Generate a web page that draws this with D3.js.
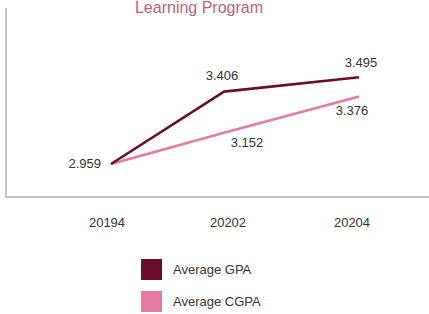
<!DOCTYPE html>
<html><head><meta charset="utf-8">
<script src="https://cdn.jsdelivr.net/npm/d3@7"></script>
<style>body{margin:0;background:#fff}svg{display:block;font-family:"Liberation Sans",Arial,sans-serif}</style>
</head><body>
<script>
const title = "Learning Program";
const categories = ["20194", "20202", "20204"];
const gpa = [2.959, 3.406, 3.495];
const cgpa = [2.959, 3.152, 3.376];
const seriesNames = ["Average GPA", "Average CGPA"];
const colors = ["#6a0d2c", "#e27aa2"];

const W = 429, H = 314;
const svg = d3.select("body").append("svg").attr("width", W).attr("height", H);

const x = d3.scaleOrdinal().domain(categories).range([111, 224, 359]);
const y = d3.scaleLinear().domain([2.755, 3.91]).range([197, 10]);

// title
svg.append("text").attr("x", 199).attr("y", 13).attr("text-anchor", "middle")
  .attr("font-size", 16).attr("fill", "#b9607a").text(title);

// axes frame
svg.append("line").attr("x1", 6).attr("x2", 6).attr("y1", 8).attr("y2", 197)
  .attr("stroke", "#c4c4c4").attr("stroke-width", 2);
svg.append("line").attr("x1", 5).attr("x2", W).attr("y1", 197).attr("y2", 197)
  .attr("stroke", "#c4c4c4").attr("stroke-width", 2);

// x tick labels
svg.selectAll("text.tick").data(categories).enter().append("text")
  .attr("class", "tick")
  .attr("x", (d, i) => x(d) + [-4, 4, -7][i]).attr("y", 227)
  .attr("text-anchor", "middle").attr("font-size", 13).attr("fill", "#333")
  .text(d => d);

const line = d3.line().x((d, i) => x(categories[i])).y(d => y(d));
[cgpa, gpa].forEach((s, k) => {
  svg.append("path").datum(s).attr("d", line).attr("fill", "none")
    .attr("stroke", colors[1 - k]).attr("stroke-width", 2.6).attr("stroke-linejoin", "round");
});

// value labels
const lab = (txt, xx, yy, anchor) => svg.append("text").attr("x", xx).attr("y", yy)
  .attr("text-anchor", anchor).attr("font-size", 13).attr("fill", "#333").text(txt);
lab(gpa[0].toFixed(3), x(categories[0]) - 10, y(gpa[0]) + 4, "end");
lab(gpa[1].toFixed(3), x(categories[1]) - 2, y(gpa[1]) - 12, "middle");
lab(gpa[2].toFixed(3), x(categories[2]) + 2, y(gpa[2]) - 10, "middle");
lab(cgpa[1].toFixed(3), x(categories[1]) + 23, y(cgpa[1]) + 14, "middle");
lab(cgpa[2].toFixed(3), x(categories[2]) - 7, y(cgpa[2]) + 19, "middle");

// legend
seriesNames.forEach((n, i) => {
  const g = svg.append("g").attr("transform", `translate(141,${259 + i * 32})`);
  g.append("rect").attr("width", 21).attr("height", 21).attr("fill", colors[i]);
  g.append("text").attr("x", 32).attr("y", 15).attr("font-size", 13).attr("fill", "#333").text(n);
});
</script>
</body></html>
